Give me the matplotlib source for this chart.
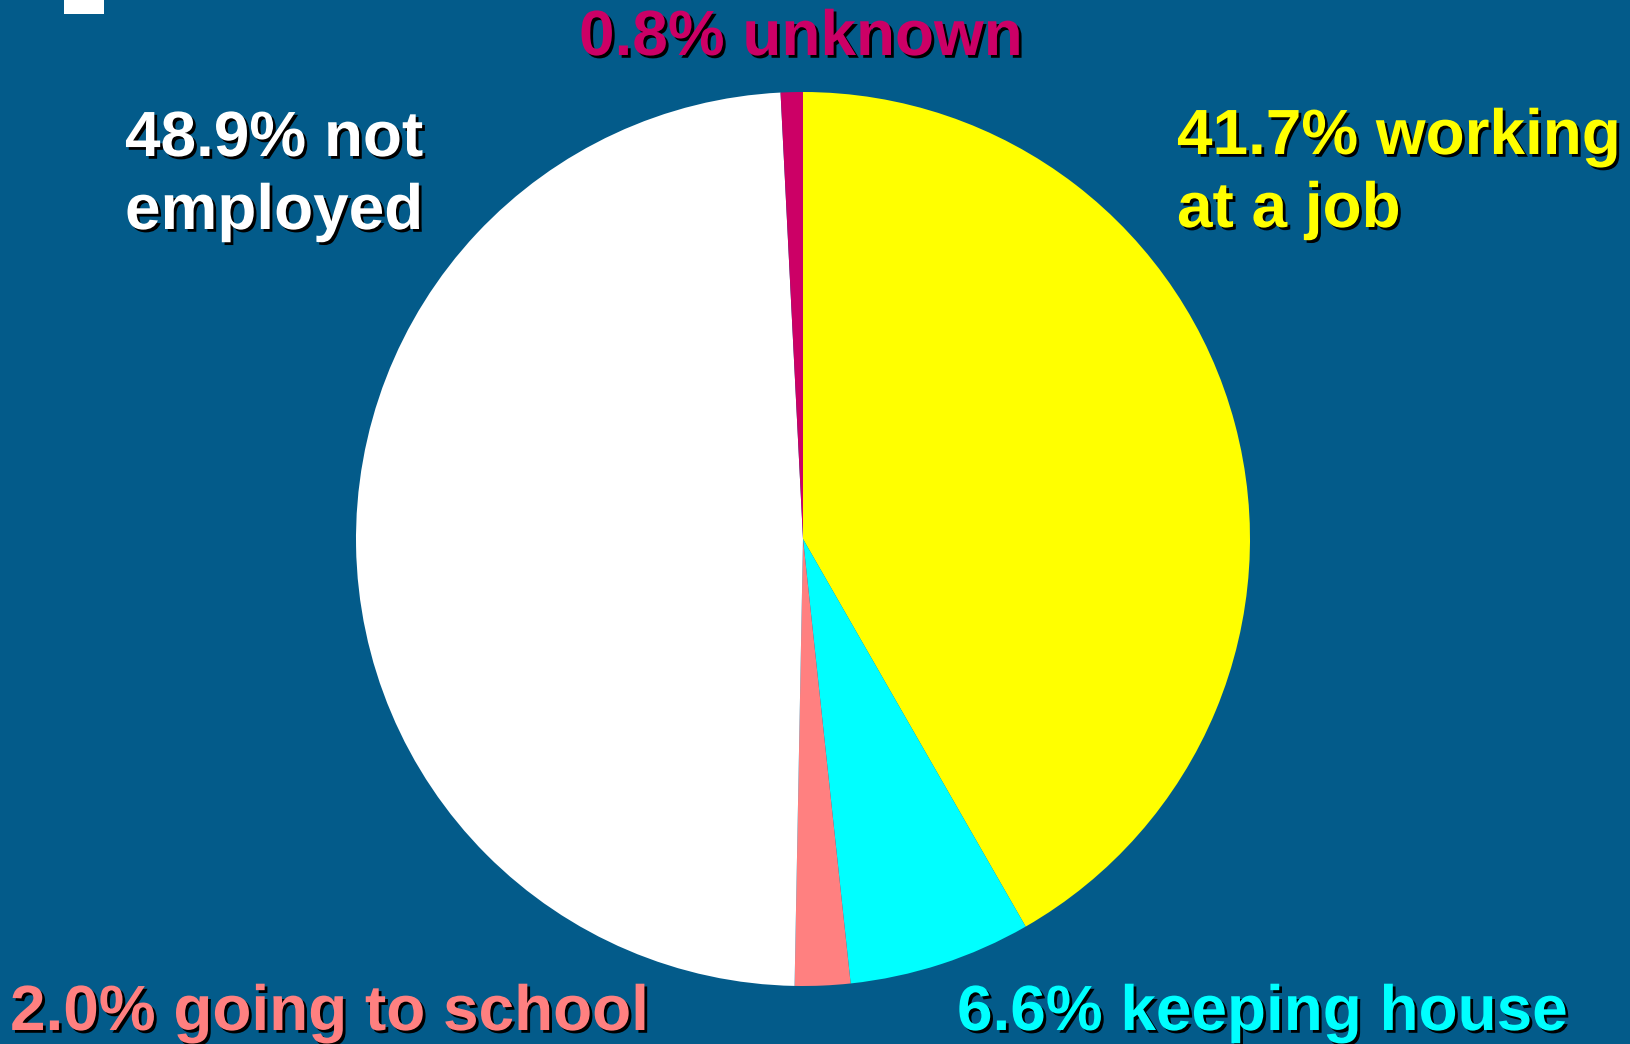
import matplotlib.pyplot as plt
import matplotlib.patheffects as pe
from matplotlib.patches import Rectangle

# data
labels = ['41.7% working\nat a job', '6.6% keeping house', '2.0% going to school',
          '48.9% not\nemployed', '0.8% unknown']
shares = [41.7, 6.6, 2.0, 48.9, 0.8]
colors = ['#FFFF00', '#00FFFF', '#FF8080', '#FFFFFF', '#CC0066']

W, H = 1631, 1044
bg = '#035B8A'

fig = plt.figure(figsize=(W / 100, H / 100), dpi=100, facecolor=bg)

# pie, centre (803, 539) px, radius 447 px
cx, cy, r = 803, 539, 447
ax = fig.add_axes([(cx - r) / W, (H - cy - r) / H, 2 * r / W, 2 * r / H])
ax.pie(shares, colors=colors, startangle=90, counterclock=False,
       wedgeprops=dict(linewidth=0))
ax.set_xlim(-1, 1)
ax.set_ylim(-1, 1)
ax.set_aspect('equal')
ax.axis('off')

# little white box top-left
fig.patches.append(Rectangle((64 / W, 1 - 14 / H), 40 / W, 14 / H,
                             transform=fig.transFigure, facecolor='white',
                             edgecolor='none'))

shadow = [pe.SimplePatchShadow(offset=(2, -2), shadow_rgbFace='black', alpha=1),
          pe.Normal()]

# label anchor (left x, first baseline y) in pixels
label_pos = [(1177, 154), (957, 1030), (10, 1030), (125, 156), (579, 55)]
line_gap = 73

for lab, col, (x, y) in zip(labels, colors, label_pos):
    for i, line in enumerate(lab.split('\n')):
        fig.text(x / W, 1 - (y + i * line_gap) / H, line, color=col,
                 fontsize=46, fontweight='bold', family='Liberation Sans',
                 ha='left', va='baseline', path_effects=shadow)

fig.savefig('out.png', dpi=100, facecolor=bg)
